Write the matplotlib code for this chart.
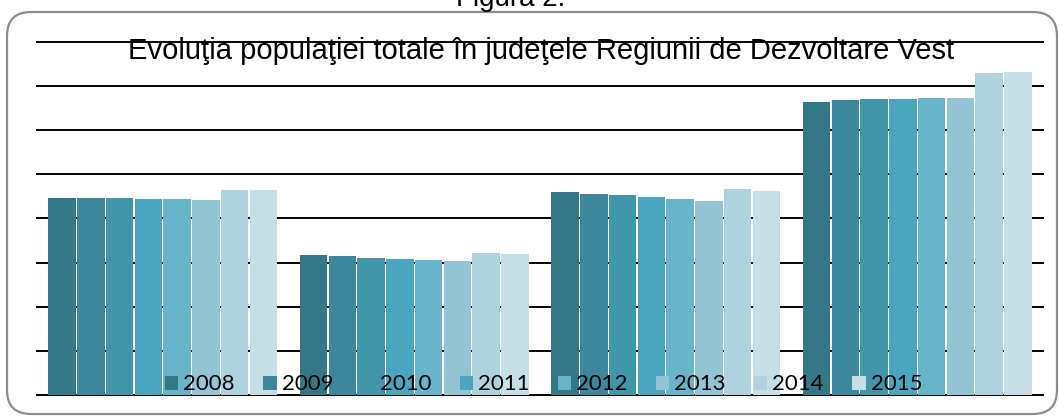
import numpy as np
import matplotlib.pyplot as plt
from matplotlib.patches import FancyBboxPatch

# populatia pe judete (mii locuitori)
judete = ['Arad', 'Caraş-Severin', 'Hunedoara', 'Timiş']
ani = ['2008', '2009', '2010', '2011', '2012', '2013', '2014', '2015']
pop = {
    'Arad':          [447, 446, 445, 443, 443, 441, 465, 464],
    'Caraş-Severin': [316, 314, 311, 309, 306, 304, 322, 319],
    'Hunedoara':     [459, 455, 452, 449, 444, 440, 466, 462],
    'Timiş':         [664, 668, 670, 670, 672, 672, 729, 731],
}
culori = ['#347887', '#3c879b', '#4296aa', '#4aa6be',
          '#68b4ca', '#92c4d4', '#aed2de', '#c6dee6']

W, H = 1059, 416
fig = plt.figure(figsize=(W/100, H/100), dpi=100)
ax = fig.add_axes([37/W, 1-395/H, (1043-37)/W, (395-41.7)/H])

x = np.arange(len(judete))
grp = 0.915
bw = grp/len(ani)
for i, an in enumerate(ani):
    vals = [pop[j][i] for j in judete]
    ax.bar(x - grp/2 + bw*(i+0.5), vals, width=bw*0.96, color=culori[i],
           label=an, zorder=2, linewidth=0)

ax.set_xlim(-0.5, len(judete)-0.5)
ax.set_ylim(0, 800)
ax.set_yticks(np.arange(0, 801, 100))
ax.set_xticks([])
ax.yaxis.grid(True, color='black', lw=1.4, zorder=1)
ax.set_axisbelow(True)
for gl in ax.get_ygridlines():
    gl.set_clip_on(False)
ax.tick_params(left=False, labelleft=False)
for s in ax.spines.values():
    s.set_visible(False)

leg = ax.legend(loc='center', bbox_to_anchor=(0.5035, 0.03), ncol=8,
                frameon=False, prop={'family': 'Lato', 'size': 16},
                handlelength=0.6, handleheight=0.6, handletextpad=0.23,
                columnspacing=1.27, borderpad=0, borderaxespad=0)
leg.set_zorder(5)

fig.text(541/W, 1-59.3/H, 'Evoluţia populaţiei totale în judeţele Regiunii de Dezvoltare Vest',
         ha='center', va='baseline', fontsize=21, family='Liberation Sans')
fig.text(511/W, 1-6/H, 'Figura 2.', ha='center', va='baseline',
         fontsize=20, family='Liberation Sans')

r = 24/W
cadru = FancyBboxPatch((7/W, 1-414/H), (1057-7)/W, (414-12)/H,
                       boxstyle=f'round,pad=0,rounding_size={r}',
                       mutation_aspect=W/H, transform=fig.transFigure,
                       fill=False, edgecolor='#8c8c8c', lw=1.6, clip_on=False)
fig.add_artist(cadru)

fig.savefig('out.png', dpi=100)
